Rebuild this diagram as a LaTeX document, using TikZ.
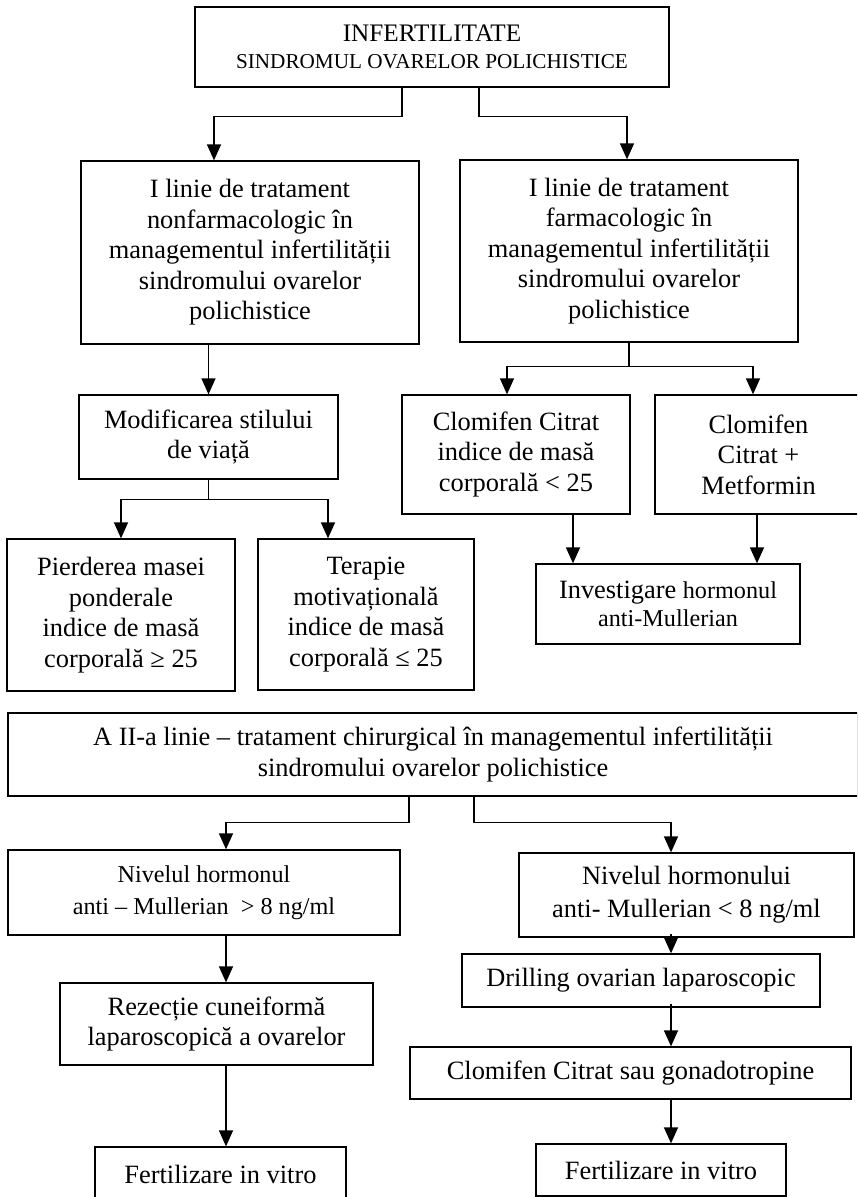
\documentclass[tikz,border=0pt]{standalone}
\usepackage{fontspec}
\setmainfont{Liberation Serif}
\usetikzlibrary{arrows.meta}
\newcommand{\fmain}{\fontsize{26.4}{30.5}\selectfont}
\newcommand{\fmid}{\fontsize{24.2}{32}\selectfont}
\newcommand{\fsmall}{\fontsize{21.2}{27}\selectfont}
\begin{document}
\begin{tikzpicture}[x=1pt,y=-1pt,
  box/.style={draw, line width=1.3pt, inner sep=0pt, align=center, font=\fmain},
  arr/.style={line width=1.4pt, -{Triangle[length=16pt,width=14pt]}},
]
\useasboundingbox (0,0) rectangle (857,1197);
\clip (0,0) rectangle (857,1197);

% ---- nodes ----
\node[box, minimum width=474pt, minimum height=80pt, font=\fontsize{25.2}{27}\selectfont] (top) at (432,47)
  {INFERTILITATE\\{\fsmall SINDROMUL OVARELOR POLICHISTICE}};
\node[box, minimum width=338pt, minimum height=183pt] (L1) at (250,252.5)
  {I linie de tratament\\nonfarmacologic în\\managementul infertilității\\sindromului ovarelor\\polichistice};
\node[box, minimum width=338pt, minimum height=182pt] (R1) at (629,251)
  {I linie de tratament\\farmacologic în\\managementul infertilității\\sindromului ovarelor\\polichistice};
\node[box, minimum width=259pt, minimum height=84pt] (modif) at (208.5,437)
  {Modificarea stilului\\de viață};
\node[box, minimum width=228pt, minimum height=119pt] (cc) at (516,454.5)
  {Clomifen Citrat\\indice de masă\\corporală < 25};
\node[box, minimum width=207pt, minimum height=119pt] (cm) at (758.5,454.5)
  {Clomifen\\Citrat +\\Metformin};
\node[box, minimum width=228pt, minimum height=152pt] (pierd) at (121,615)
  {Pierderea masei\\ponderale\\indice de masă\\corporală ≥ 25};
\node[box, minimum width=216pt, minimum height=151pt] (terap) at (366,614.5)
  {Terapie\\motivațională\\indice de masă\\corporală ≤ 25};
\node[box, minimum width=264pt, minimum height=80pt, font=\fontsize{26.4}{28}\selectfont] (inv) at (668,604)
  {Investigare {\fmid hormonul}\\{\fmid anti-Mullerian}};
\node[box, minimum width=850pt, minimum height=83pt, font=\fontsize{26.4}{31}\selectfont] (a2) at (433,754.5)
  {A II-a linie – tratament chirurgical în managementul infertilității\\sindromului ovarelor polichistice};
\node[box, minimum width=392pt, minimum height=85pt, font=\fmid] (nl) at (204,892.5)
  {Nivelul hormonul\\anti – Mullerian~~> 8 ng/ml};
\node[box, minimum width=335pt, minimum height=84pt, font=\fontsize{26.4}{33}\selectfont] (nr) at (686.5,895)
  {Nivelul hormonului\\anti- Mullerian < 8 ng/ml};
\node[box, minimum width=313pt, minimum height=82pt] (rez) at (216.5,1024)
  {Rezecție cuneiformă\\laparoscopică a ovarelor};
\node[box, minimum width=358pt, minimum height=53pt] (dril) at (641,980.5)
  {Drilling ovarian laparoscopic};
\node[box, minimum width=441pt, minimum height=52pt] (cs) at (630.5,1073)
  {Clomifen Citrat sau gonadotropine};
\node[box, minimum width=251pt, minimum height=54pt] (fl) at (220.5,1174)
  {Fertilizare in vitro};
\node[box, minimum width=250pt, minimum height=52pt] (fr) at (661,1170)
  {Fertilizare in vitro};

% ---- column coordinates ----
\coordinate (xa) at (402,0);
\coordinate (xb) at (479,0);
\coordinate (xL1) at (214,0);
\coordinate (xR1) at (627,0);
\coordinate (xcc) at (507,0);
\coordinate (xcm) at (753,0);
\coordinate (xpi) at (121,0);
\coordinate (xte) at (328,0);
\coordinate (xi1) at (573,0);
\coordinate (xi2) at (757,0);
\coordinate (xc) at (409,0);
\coordinate (xd) at (474,0);
\coordinate (colL) at (226,0);
\coordinate (colR) at (671,0);

% ---- connectors ----
\draw[arr] (top.south -| xa) -- ++(0,29) -| (L1.north -| xL1);
\draw[arr] (top.south -| xb) -- ++(0,29) -| (R1.north -| xR1);
\draw[arr] (L1.south -| modif.north) -- (modif.north);
\draw[arr] (R1.south) -- ++(0,24) -| (cc.north -| xcc);
\draw[arr] (R1.south) -- ++(0,24) -| (cm.north -| xcm);
\draw[arr] (modif.south) -- ++(0,20) -| (pierd.north -| xpi);
\draw[arr] (modif.south) -- ++(0,20) -| (terap.north -| xte);
\draw[arr] (cc.south -| xi1) -- (inv.north -| xi1);
\draw[arr] (cm.south -| xi2) -- (inv.north -| xi2);
\draw[arr] (a2.south -| xc) -- ++(0,26) -| (nl.north -| colL);
\draw[arr] (a2.south -| xd) -- ++(0,26) -| (nr.north -| colR);
\draw[arr] (nl.south -| colL) -- (rez.north -| colL);
\draw[arr] (rez.south -| colL) -- (fl.north -| colL);
\draw[arr] ([yshift=4pt]nr.south -| colR) -- (dril.north -| colR);
\draw[arr] ([yshift=4pt]dril.south -| colR) -- (cs.north -| colR);
\draw[arr] (cs.south -| colR) -- (fr.north -| colR);
\end{tikzpicture}
\end{document}
